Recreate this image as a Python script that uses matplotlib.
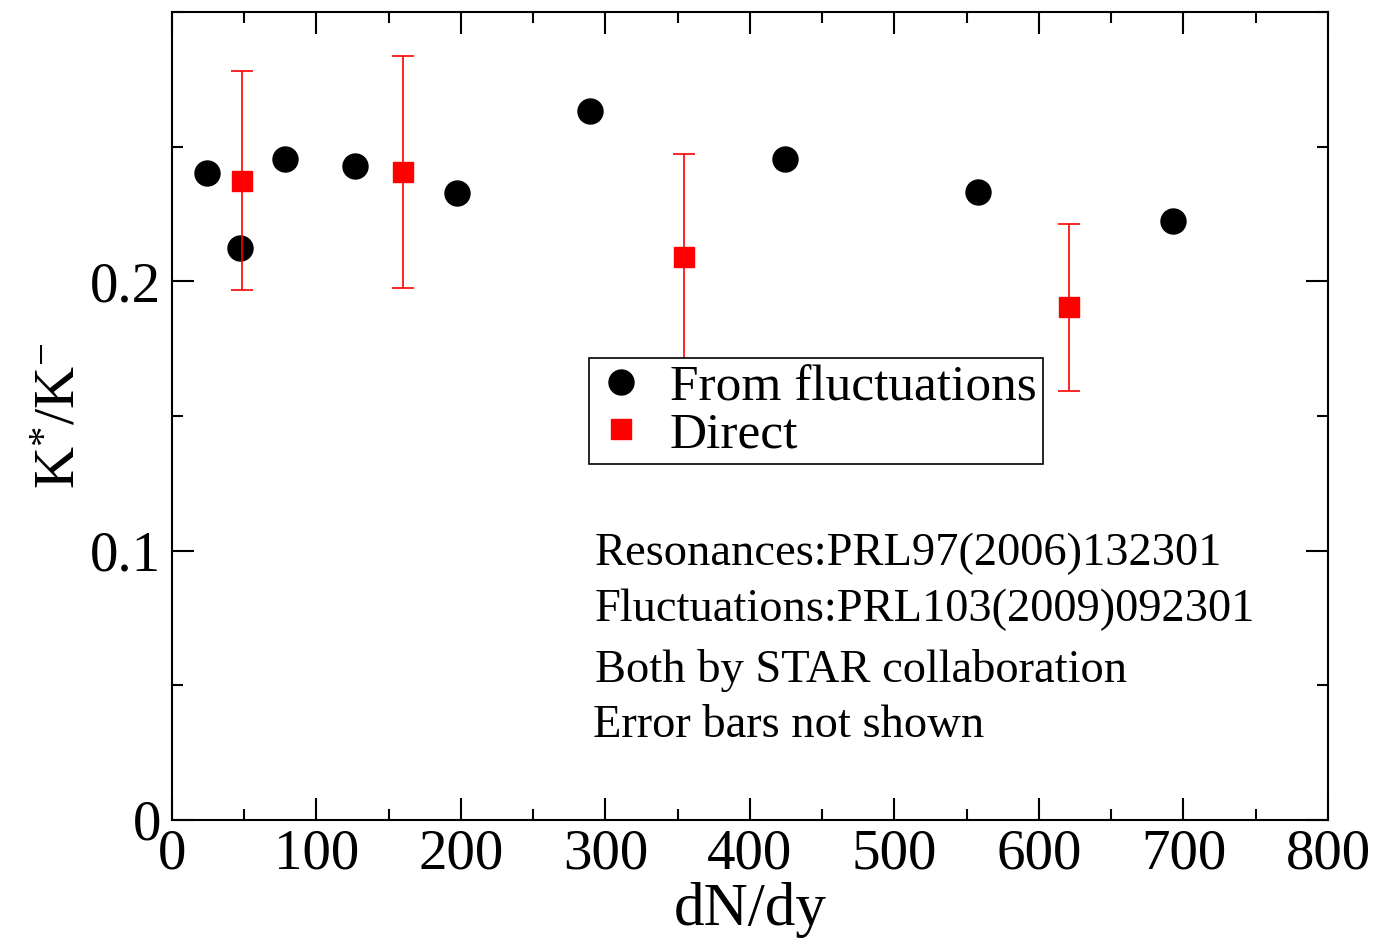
import matplotlib
matplotlib.use('Agg')
import matplotlib.pyplot as plt
from matplotlib.lines import Line2D
from matplotlib.ticker import MultipleLocator

plt.rcParams['font.family'] = ['Liberation Serif', 'DejaVu Serif']
plt.rcParams['mathtext.fontset'] = 'custom'
plt.rcParams['mathtext.rm'] = 'Liberation Serif'
plt.rcParams['mathtext.it'] = 'Liberation Serif:italic'

# data
fluct_x = [24, 47, 78, 127, 197, 289, 424, 558, 693]
fluct_y = [0.2404, 0.2124, 0.2453, 0.2428, 0.2327, 0.2632, 0.2456, 0.2330, 0.2223]

direct_x = [48.4, 159.9, 354.3, 621.0]
direct_y = [0.2373, 0.2405, 0.2089, 0.1904]
direct_err = [0.0407, 0.0430, 0.0382, 0.0310]

notes = ["Resonances:PRL97(2006)132301",
         "Fluctuations:PRL103(2009)092301",
         "Both by STAR collaboration",
         "Error bars not shown"]

fig = plt.figure(figsize=(13.79, 9.44), dpi=100)
ax = fig.add_axes([0.1247, 0.1314, 0.8383, 0.8559])

ax.plot(fluct_x, fluct_y, 'o', color='black', markersize=18,
        linestyle='none', zorder=3)
ax.errorbar(direct_x, direct_y, yerr=direct_err, fmt='s', color='red',
            ecolor='red', elinewidth=1.2, capsize=8, capthick=1.2,
            markersize=15, zorder=4)

ax.set_xlim(0, 800)
ax.set_ylim(0, 0.3)
ax.xaxis.set_major_locator(MultipleLocator(100))
ax.xaxis.set_minor_locator(MultipleLocator(50))
ax.set_yticks([0, 0.1, 0.2])
ax.set_yticklabels(['0', '0.1', '0.2'])
ax.yaxis.set_minor_locator(MultipleLocator(0.05))

ax.tick_params(which='both', direction='in', top=True, right=True,
               width=1.5, labelsize=41)
ax.tick_params(which='major', length=16)
ax.tick_params(which='minor', length=8)
ax.tick_params(axis='x', pad=6)
ax.tick_params(axis='y', pad=8)
for s in ax.spines.values():
    s.set_linewidth(1.5)

ax.set_xlabel('dN/dy', fontsize=44, labelpad=1)
ax.set_ylabel('K$^{*}$/K$^{-}$', fontsize=42, labelpad=2)

# legend shows plain markers only
handles = [Line2D([], [], marker='o', color='black', markersize=18, linestyle='none'),
           Line2D([], [], marker='s', color='red', markersize=15, linestyle='none')]
labels = ['From fluctuations', 'Direct']
leg = ax.legend(handles, labels, loc='upper left', bbox_to_anchor=(0.3607, 0.5718),
                borderaxespad=0, fontsize=37, frameon=True, fancybox=False,
                framealpha=1, edgecolor='black', handlelength=1.0,
                handletextpad=0.45, borderpad=0.12, labelspacing=0.0,
                numpoints=1)
leg.get_frame().set_linewidth(1.2)
leg.set_zorder(5)

note_y = [0.3156, 0.2463, 0.1708, 0.1027]
note_x = [0.366, 0.366, 0.366, 0.3642]
for t, xx, yy in zip(notes, note_x, note_y):
    ax.text(xx, yy, t, transform=ax.transAxes, fontsize=33.5,
            va='baseline', ha='left')

fig.savefig('out.png', dpi=100)
